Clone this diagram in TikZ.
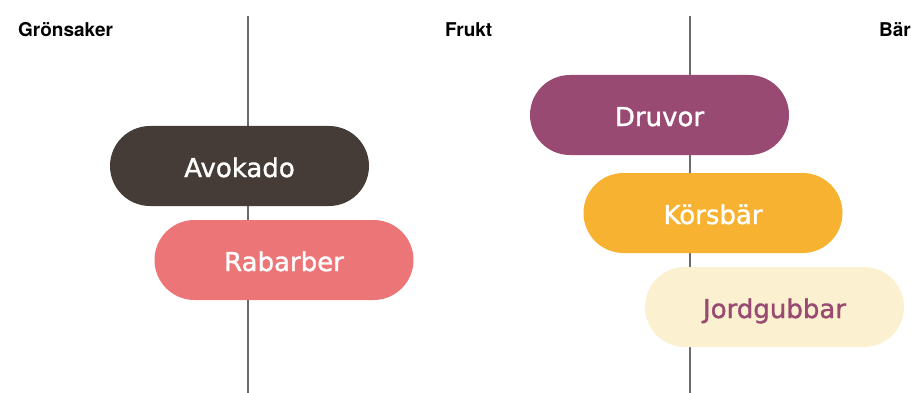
\documentclass[tikz,border=0pt]{standalone}
\usepackage{fontspec}
\setmainfont{TeX Gyre Heros}
\newfontfamily\pillfont[FakeBold=1.3]{DejaVu Sans}
\definecolor{axisgrey}{HTML}{6B6B6B}
\definecolor{avocado}{HTML}{453C38}
\definecolor{rhubarb}{HTML}{EC7677}
\definecolor{grape}{HTML}{984A72}
\definecolor{cherry}{HTML}{F7B231}
\definecolor{cream}{HTML}{FBF0CF}
\usetikzlibrary{shapes.misc}
\tikzset{
  header/.style={font=\fontsize{19}{21}\selectfont\bfseries, text=black, inner sep=0pt},
  axis/.style={draw=axisgrey, line width=1.4pt},
  pill/.style={rounded rectangle, minimum width=259pt, minimum height=80pt,
    inner sep=0pt, text height=22pt, text depth=0pt,
    font=\pillfont\fontsize{26}{30}\selectfont, text=white},
}
\begin{document}
\begin{tikzpicture}[x=1pt,y=-1pt]
  \useasboundingbox (0,0) rectangle (912,393);
  % column separators
  \coordinate (a1) at (248,16);  \coordinate (a2) at (248,393);
  \coordinate (b1) at (690,16);  \coordinate (b2) at (690,393);
  \draw[axis] (a1) -- (a2);
  \draw[axis] (b1) -- (b2);
  % column headers
  \node[header, anchor=base west] (hveg) at (18,36.5) {Grönsaker};
  \node[header, anchor=base west] (hfruit) at (445,36.5) {Frukt};
  \node[header, anchor=base east] (hberry) at (911,36.5) {Bär};
  % items
  \node[pill, fill=avocado] (avo) at (239.5,166) {Avokado};
  \node[pill, fill=rhubarb] (rab) at (284,260) {Rabarber};
  \node[pill, fill=grape] (dru) at (659.5,115) {Druvor};
  \node[pill, fill=cherry] (kor) at (713,213) {Körsbär};
  \node[pill, fill=cream, text=grape] (jor) at (774.5,307) {Jordgubbar};
\end{tikzpicture}
\end{document}
